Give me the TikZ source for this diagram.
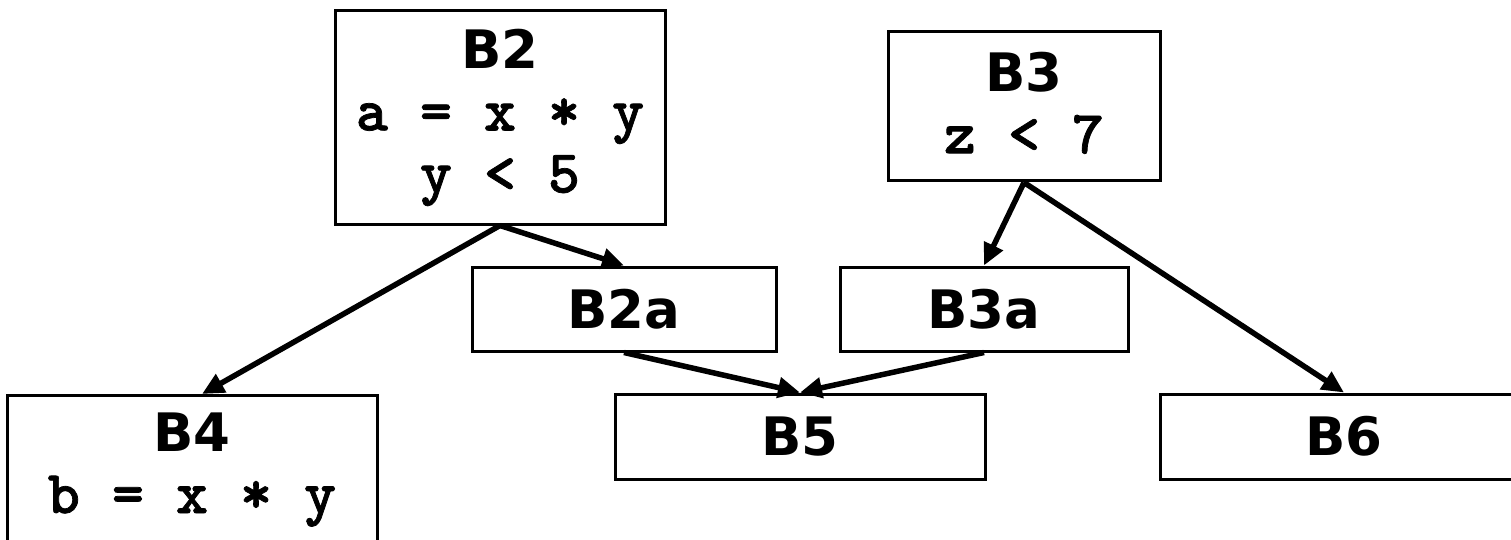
\documentclass[tikz,border=0pt]{standalone}
\usepackage{fontspec}
\usetikzlibrary{arrows.meta}
\newfontfamily\lblfont{DejaVu Sans}[BoldFont={DejaVu Sans Bold}]
\newfontfamily\codefont{lmmonolt10-bold.otf}[FakeBold=1.2]
\newcommand{\lbl}[1]{{\lblfont\bfseries #1}}
\newcommand{\cod}[1]{{\fontsize{61pt}{62pt}\selectfont\codefont\bfseries #1}}
\tikzset{
  blk/.style={draw=black, line width=3pt, rectangle, inner sep=0pt, align=center,
    font={\fontsize{53pt}{62pt}\selectfont}},
  flow/.style={draw=black, line width=5.5pt, -{Triangle[length=22pt,width=20pt]}},
}
\begin{document}
\begin{tikzpicture}[x=1pt,y=-1pt]
\useasboundingbox (0,0) rectangle (1511,540);
\clip (0,0) rectangle (1511,540);
\fill[white] (0,0) rectangle (1511,540);
\node[blk, minimum width=330pt, minimum height=213pt] (B2) at (500,117.5)
  {\lbl{B2}\\\cod{a = x * y}\\\cod{y < 5}};
\node[blk, minimum width=272pt, minimum height=149pt] (B3) at (1024,106.5)
  {\lbl{B3}\\\cod{z < 7}\\[-54pt]\mbox{}};
\node[blk, minimum width=304pt, minimum height=84pt] (B2a) at (624,309) {\lbl{B2a}};
\node[blk, minimum width=288pt, minimum height=84pt] (B3a) at (984,309) {\lbl{B3a}};
\node[blk, minimum width=370pt, minimum height=85pt] (B5) at (800,436.5) {\lbl{B5}};
\node[blk, minimum width=368pt, minimum height=85pt] (B6) at (1344,436.5) {\lbl{B6}};
\node[blk, minimum width=370pt, minimum height=148pt, anchor=north] (B4) at (192,394)
  {\lbl{B4}\\\cod{b = x * y}};
\draw[flow] (B2.south) -- ([xshift=10pt]B4.north);
\draw[flow] (B2.south) -- (B2a.north);
\draw[flow] (B3.south) -- (B3a.north);
\draw[flow] (B3.south) -- (B6.north);
\draw[flow] (B2a.south) -- (B5.north);
\draw[flow] (B3a.south) -- (B5.north);
\end{tikzpicture}
\end{document}
